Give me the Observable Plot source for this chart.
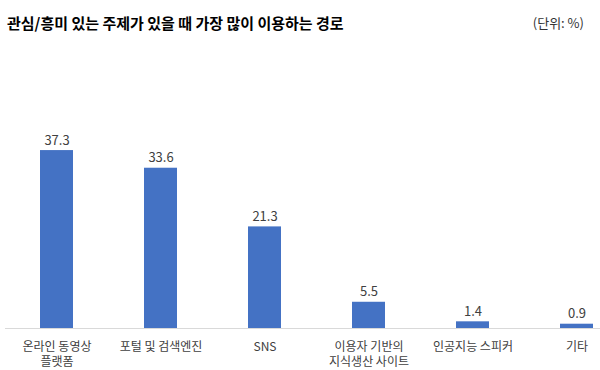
<!DOCTYPE html>
<html>
<head>
<meta charset="utf-8">
<script src="https://cdn.jsdelivr.net/npm/d3@7"></script>
<script src="https://cdn.jsdelivr.net/npm/@observablehq/plot@0.6"></script>
<style>
  body { margin: 0; background: #fff; font-family: "Noto Sans CJK KR", "Noto Sans", sans-serif; }
  #wrap { width: 600px; height: 370px; position: relative; overflow: hidden; }
  #head { position: relative; width: 600px; height: 40px; }
  #title { position: absolute; left: 7px; top: 13px; line-height: 20px; font-size: 15px; font-weight: bold; color: #000; white-space: nowrap; }
  #unit { position: absolute; right: 16px; top: 13px; line-height: 20px; font-size: 13px; color: #333; white-space: nowrap; }
</style>
</head>
<body>
<div id="wrap">
  <div id="head">
    <div id="title"></div>
    <div id="unit"></div>
  </div>
  <div id="chart"></div>
</div>
<script>
const titleText = "관심/흥미 있는 주제가 있을 때 가장 많이 이용하는 경로";
const unitText = "(단위: %)";
const categories = ["온라인 동영상\n플랫폼", "포털 및 검색엔진", "SNS", "이용자 기반의\n지식생산 사이트", "인공지능 스피커", "기타"];
const values = [37.3, 33.6, 21.3, 5.5, 1.4, 0.9];

document.getElementById("title").textContent = titleText;
document.getElementById("unit").textContent = unitText;

const data = categories.map((c, i) => ({category: c, value: values[i]}));

const chart = Plot.plot({
  width: 600,
  height: 330,
  marginLeft: 5,
  marginRight: 0,
  marginTop: 0,
  marginBottom: 42,
  style: {fontFamily: '"Noto Sans CJK KR", "Noto Sans", sans-serif', background: "transparent"},
  x: {domain: categories, range: [5, 629], paddingInner: 0.68, paddingOuter: 0.34, label: null},
  y: {domain: [0, 40], range: [288, 97.2], axis: null},
  marks: [
    Plot.barY(data, {x: "category", y: "value", fill: "#4472C4"}),
    Plot.ruleY([0], {stroke: "#d9d9d9", strokeWidth: 1}),
    Plot.text(data, {x: "category", y: "value", text: d => d.value.toFixed(1), dy: -10, fontSize: 13, fill: "#404040"}),
    Plot.axisX({tickSize: 0, tickPadding: 11, fontSize: 12, lineHeight: 1.3, fill: "#404040", label: null})
  ]
});
document.getElementById("chart").appendChild(chart);
</script>
</body>
</html>
